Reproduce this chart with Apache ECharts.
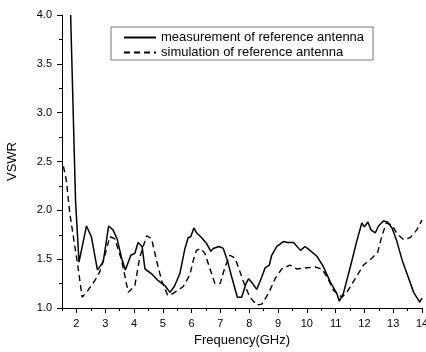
<!DOCTYPE html>
<html>
<head>
<meta charset="utf-8">
<script src="https://cdn.jsdelivr.net/npm/echarts@6/dist/echarts.min.js"></script>
<style>
  html, body { margin: 0; padding: 0; background: #fff; }
  #chart { width: 426px; height: 352px; }
</style>
</head>
<body>
<div id="chart"></div>
<script>
// values
const measFreq = [1.80, 1.97, 2.09, 2.35, 2.52, 2.73, 2.93, 3.12, 3.27, 3.41, 3.57, 3.70, 3.89, 4.03, 4.14, 4.28, 4.38, 4.61, 4.84, 5.07,
  5.25, 5.40, 5.59, 5.77, 5.88, 5.97, 6.08, 6.17, 6.35, 6.52, 6.67, 6.75, 6.95, 7.10, 7.24, 7.39, 7.59, 7.74, 7.89, 7.98,
  8.12, 8.26, 8.44, 8.55, 8.70, 8.78, 8.96, 9.19, 9.33, 9.54, 9.78, 9.94, 10.11, 10.35, 10.58, 10.81, 11.04, 11.13, 11.27, 11.51,
  11.74, 11.91, 12.00, 12.12, 12.23, 12.38, 12.49, 12.66, 12.80, 12.96, 13.13, 13.31, 13.48, 13.71, 13.92, 14.00]
const measVswr = [4.00, 2.10, 1.47, 1.84, 1.73, 1.39, 1.47, 1.84, 1.80, 1.71, 1.51, 1.39, 1.54, 1.56, 1.67, 1.63, 1.40, 1.35, 1.28, 1.23,
  1.16, 1.22, 1.35, 1.61, 1.72, 1.73, 1.82, 1.77, 1.72, 1.66, 1.58, 1.61, 1.63, 1.61, 1.49, 1.32, 1.11, 1.11, 1.25, 1.30,
  1.25, 1.19, 1.32, 1.41, 1.44, 1.54, 1.63, 1.68, 1.67, 1.67, 1.59, 1.63, 1.59, 1.53, 1.42, 1.27, 1.15, 1.07, 1.15, 1.42,
  1.69, 1.87, 1.83, 1.88, 1.80, 1.77, 1.84, 1.89, 1.88, 1.82, 1.68, 1.49, 1.35, 1.16, 1.06, 1.10]

const simFreq = [1.55, 1.65, 1.77, 2.04, 2.20, 2.40, 2.64, 2.81, 2.99, 3.16, 3.33, 3.57, 3.80, 4.03, 4.20, 4.44, 4.61, 4.78, 4.96, 5.17,
  5.36, 5.71, 5.94, 6.06, 6.17, 6.31, 6.46, 6.64, 6.81, 6.99, 7.16, 7.33, 7.51, 7.68, 7.86, 8.03, 8.26, 8.44, 8.67, 8.90,
  9.13, 9.42, 9.65, 9.94, 10.29, 10.52, 10.70, 10.93, 11.22, 11.39, 11.68, 11.97, 12.26, 12.46, 12.61, 12.76, 12.96, 13.13, 13.36, 13.59,
  13.82, 14.00]
const simVswr = [2.45, 2.31, 1.97, 1.45, 1.11, 1.18, 1.28, 1.37, 1.54, 1.73, 1.71, 1.49, 1.16, 1.23, 1.52, 1.74, 1.71, 1.49, 1.28, 1.13,
  1.15, 1.22, 1.34, 1.49, 1.59, 1.61, 1.56, 1.40, 1.25, 1.25, 1.42, 1.54, 1.51, 1.37, 1.22, 1.11, 1.03, 1.04, 1.15, 1.30,
  1.40, 1.44, 1.40, 1.41, 1.42, 1.40, 1.32, 1.18, 1.11, 1.16, 1.30, 1.44, 1.51, 1.57, 1.74, 1.87, 1.85, 1.76, 1.70, 1.72,
  1.80, 1.90]

const xMajor = [2, 3, 4, 5, 6, 7, 8, 9, 10, 11, 12, 13, 14]
const xMinor = [1.5, 2.5, 3.5, 4.5, 5.5, 6.5, 7.5, 8.5, 9.5, 10.5, 11.5, 12.5, 13.5]
const seriesNames = ['measurement of reference antenna', 'simulation of reference antenna']

const zip = (xs, ys) => xs.map((x, i) => [x, ys[i]])
const font = 'Arial, "Liberation Sans", sans-serif'

const chart = echarts.init(document.getElementById('chart'))
chart.setOption({
  animation: false,
  grid: { left: 62, right: 4, top: 15, bottom: 44, outerBoundsMode: 'none' },
  legend: {
    orient: 'vertical',
    left: 111, top: 27,
    padding: [4, 9, 1, 12],
    itemGap: 2,
    itemWidth: 32,
    itemHeight: 14,
    borderColor: '#777',
    borderWidth: 1,
    itemStyle: { opacity: 0 },
    textStyle: { fontSize: 13, color: '#000', fontFamily: font },
    data: seriesNames,
  },
  xAxis: [{
    type: 'value',
    min: 1.5, max: 14,
    name: 'Frequency(GHz)',
    nameLocation: 'middle',
    nameGap: 25,
    nameTextStyle: { fontSize: 13, color: '#000', fontFamily: font },
    axisLine: { lineStyle: { color: '#000', width: 1 } },
    axisTick: { customValues: xMajor, length: 5, lineStyle: { color: '#000' } },
    axisLabel: { customValues: xMajor, fontSize: 11, color: '#000', fontFamily: font, margin: 10 },
    splitLine: { show: false },
  }, {
    type: 'value',
    min: 1.5, max: 14,
    position: 'bottom',
    axisLine: { show: false },
    axisTick: { customValues: xMinor, length: 3, lineStyle: { color: '#000' } },
    axisLabel: { show: false },
    splitLine: { show: false },
  }],
  yAxis: {
    type: 'value',
    min: 1, max: 4, interval: 0.5,
    name: 'VSWR',
    nameLocation: 'middle',
    nameGap: 43,
    nameTextStyle: { fontSize: 13, color: '#000', fontFamily: font },
    axisLine: { show: true, lineStyle: { color: '#000', width: 1 } },
    axisTick: { length: 5, lineStyle: { color: '#000' } },
    minorTick: { show: true, splitNumber: 2, length: 3, lineStyle: { color: '#000' } },
    axisLabel: { fontSize: 11, color: '#000', fontFamily: font, margin: 10, formatter: v => v.toFixed(1) },
    splitLine: { show: false },
  },
  series: [{
    name: seriesNames[0],
    type: 'line',
    data: zip(measFreq, measVswr),
    symbol: 'none',
    clip: true,
    lineStyle: { color: '#000', width: 1.5 },
    itemStyle: { color: '#000' },
  }, {
    name: seriesNames[1],
    type: 'line',
    data: zip(simFreq, simVswr),
    symbol: 'none',
    clip: true,
    lineStyle: { color: '#000', width: 1.4, type: [6, 4] },
    itemStyle: { color: '#000' },
  }],
})
</script>
</body>
</html>
